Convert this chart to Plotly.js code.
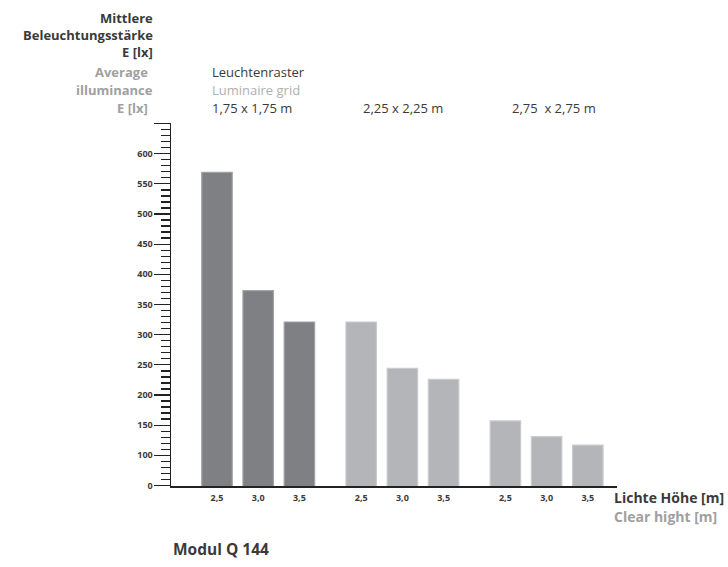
<!DOCTYPE html>
<html>
<head>
<meta charset="utf-8">
<script src="https://cdn.plot.ly/plotly-3.0.1.min.js"></script>
<style>html,body{margin:0;padding:0;background:#fff;}#chart{width:728px;height:567px;}</style>
</head>
<body>
<div id="chart"></div>
<script>
// ---- data ----
const gridLabels = ["1,75 x 1,75 m", "2,25 x 2,25 m", "2,75  x 2,75 m"];
const heightLabels = ["2,5", "3,0", "3,5"];
const values175 = [569, 373, 321];
const values225 = [321, 244, 226];
const values275 = [157, 131, 117];
const yTickVals = [50, 100, 150, 200, 250, 300, 350, 400, 450, 500, 550, 600, 650];
const yTickText = ["0", "100", "150", "200", "250", "300", "350", "400", "450", "500", "550", "600", ""];

// ---- layout helpers ----
const groups = [values175, values225, values275];
const groupStep = 3.5;
const fills = ["#7f8084", "#b4b5b8", "#b4b5b8"];
const borders = ["#a2a2a5", "#cbcbcd", "#cbcbcd"];

const L = 171, R = 617, T = 123.3, B = 485.7, W = 728, H = 567;
const px = x => (x - L) / (R - L);
const py = y => (B - y) / (B - T);

const traces = groups.map((vals, g) => ({
  type: "bar",
  x: vals.map((v, i) => g * groupStep + i),
  y: vals,
  width: 0.74,
  marker: { color: fills[g], line: { color: borders[g], width: 1.2 } },
  hoverinfo: "skip",
  showlegend: false
}));

const xTickVals = [], xTickText = [];
groups.forEach((vals, g) => vals.forEach((v, i) => {
  xTickVals.push(g * groupStep + i);
  xTickText.push(heightLabels[i]);
}));

const dark = "#3a3a3a", grey = "#a0a0a0", light = "#b0b0b0";
const FONT = "'Open Sans', 'Noto Sans', sans-serif";
function ann(text, x, y, size, color, bold, anchor) {
  return {
    text: bold ? "<b>" + text + "</b>" : text,
    xref: "paper", yref: "paper", x: px(x), y: py(y),
    xanchor: anchor, yanchor: "middle", showarrow: false,
    font: { family: FONT, size: size, color: color }
  };
}

const annotations = [
  ann("Mittlere", 155, 18, 13, dark, true, "right"),
  ann("Beleuchtungsstärke", 155, 35, 13, dark, true, "right"),
  ann("E [lx]", 155, 52, 13, dark, true, "right"),
  ann("Average", 150, 72, 13, grey, true, "right"),
  ann("illuminance", 155, 90, 13, grey, true, "right"),
  ann("E [lx]", 150, 108, 13, grey, true, "right"),
  ann("Leuchtenraster", 210, 72, 13, dark, false, "left"),
  ann("Luminaire grid", 210, 90, 13, light, false, "left"),
  ann(gridLabels[0], 210, 108, 13, dark, false, "left"),
  ann(gridLabels[1], 361, 108, 13, dark, false, "left"),
  ann(gridLabels[2], 510, 108, 13, dark, false, "left"),
  ann("Lichte Höhe [m]", 612, 497, 14, dark, true, "left"),
  ann("Clear hight [m]", 612, 516, 14, grey, true, "left"),
  ann("Modul Q 144", 171, 549, 15.5, dark, true, "left")
];

const unit = 41.2;
const layout = {
  width: W, height: H,
  margin: { l: L, r: W - R, t: T, b: H - B, pad: 0 },
  paper_bgcolor: "#fff", plot_bgcolor: "#fff",
  bargap: 0,
  font: { family: FONT, color: dark },
  xaxis: {
    range: [(L - 217) / unit, (R - 217) / unit],
    tickmode: "array", tickvals: xTickVals, ticktext: xTickText,
    ticks: "", showgrid: false, zeroline: false,
    showline: true, linecolor: "#222", linewidth: 1.5,
    tickfont: { family: FONT, size: 9, color: dark, weight: "bold" },
    ticklabelstandoff: 3,
    fixedrange: true
  },
  yaxis: {
    range: [50 - 0.5 / 0.604, 650 + 0.5 / 0.604],
    tickmode: "array", tickvals: yTickVals, ticktext: yTickText,
    ticks: "outside", ticklen: 16, tickwidth: 1.3, tickcolor: "#222",
    minor: { tickmode: "linear", tick0: 0, dtick: 10, ticks: "outside", ticklen: 9, tickwidth: 1.3, tickcolor: "#222", showgrid: false },
    showgrid: false, zeroline: false,
    showline: true, linecolor: "#222", linewidth: 1.5,
    tickfont: { family: FONT, size: 9, color: dark, weight: "bold" },
    ticklabelstandoff: -1,
    fixedrange: true
  },
  annotations: annotations
};

Plotly.newPlot("chart", traces, layout, { displayModeBar: false, staticPlot: true });
</script>
</body>
</html>
